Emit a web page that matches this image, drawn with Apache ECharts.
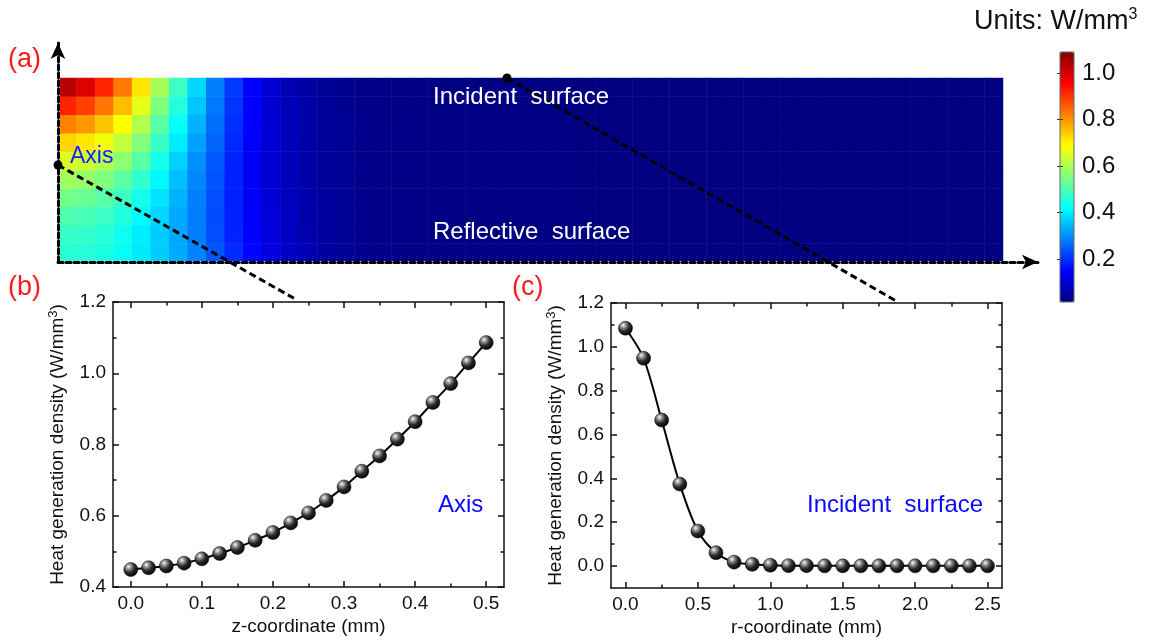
<!DOCTYPE html>
<html>
<head>
<meta charset="utf-8">
<title>Heat generation density</title>
<script src="https://cdn.jsdelivr.net/npm/echarts@6.0.0/dist/echarts.min.js"></script>
<style>
  html, body { margin: 0; padding: 0; background: #fff; }
  #chart { width: 1153px; height: 640px; }
</style>
</head>
<body>
<div id="chart"></div>
<script>
// (a) field map: cell centres along r (mm) and z (mm)
const rCells = ['0.025', '0.075', '0.125', '0.175', '0.225', '0.275', '0.325', '0.375', '0.425', '0.475',
  '0.525', '0.575', '0.625', '0.675', '0.725', '0.775', '0.825', '0.875', '0.925', '0.975',
  '1.025', '1.075', '1.125', '1.175', '1.225', '1.275', '1.325', '1.375', '1.425', '1.475',
  '1.525', '1.575', '1.625', '1.675', '1.725', '1.775', '1.825', '1.875', '1.925', '1.975',
  '2.025', '2.075', '2.125', '2.175', '2.225', '2.275', '2.325', '2.375', '2.425', '2.475', '2.525']
const zCells = ['0.025', '0.075', '0.125', '0.175', '0.225', '0.275', '0.325', '0.375', '0.425', '0.475']

// W/mm3, r = 0.025 .. 0.975 for each z row
const fieldZ025 = [0.454, 0.449, 0.440, 0.418, 0.386, 0.356, 0.318, 0.277, 0.227, 0.182, 0.141, 0.104, 0.075, 0.052, 0.035, 0.024, 0.017, 0.012, 0.009, 0.007]
const fieldZ075 = [0.467, 0.461, 0.450, 0.425, 0.390, 0.356, 0.314, 0.270, 0.220, 0.174, 0.134, 0.099, 0.071, 0.049, 0.033, 0.023, 0.016, 0.012, 0.008, 0.007]
const fieldZ125 = [0.494, 0.487, 0.472, 0.445, 0.406, 0.365, 0.318, 0.270, 0.219, 0.171, 0.130, 0.096, 0.069, 0.047, 0.032, 0.022, 0.016, 0.011, 0.008, 0.006]
const fieldZ175 = [0.531, 0.523, 0.504, 0.473, 0.429, 0.380, 0.327, 0.273, 0.221, 0.169, 0.128, 0.093, 0.066, 0.046, 0.031, 0.021, 0.015, 0.011, 0.008, 0.006]
const fieldZ225 = [0.580, 0.570, 0.546, 0.510, 0.461, 0.402, 0.341, 0.280, 0.225, 0.169, 0.126, 0.092, 0.065, 0.045, 0.030, 0.020, 0.015, 0.010, 0.008, 0.006]
const fieldZ275 = [0.643, 0.630, 0.601, 0.559, 0.502, 0.431, 0.360, 0.289, 0.231, 0.170, 0.125, 0.090, 0.063, 0.043, 0.029, 0.020, 0.014, 0.010, 0.008, 0.006]
const fieldZ325 = [0.725, 0.707, 0.670, 0.618, 0.549, 0.468, 0.388, 0.309, 0.244, 0.178, 0.130, 0.092, 0.064, 0.043, 0.029, 0.020, 0.014, 0.010, 0.008, 0.006]
const fieldZ375 = [0.815, 0.791, 0.744, 0.681, 0.599, 0.505, 0.416, 0.328, 0.255, 0.186, 0.133, 0.093, 0.063, 0.042, 0.028, 0.020, 0.014, 0.010, 0.007, 0.006]
const fieldZ425 = [0.918, 0.886, 0.827, 0.751, 0.655, 0.546, 0.445, 0.348, 0.265, 0.192, 0.134, 0.092, 0.062, 0.040, 0.027, 0.018, 0.013, 0.009, 0.007, 0.006]
const fieldZ475 = [1.029, 0.988, 0.916, 0.823, 0.710, 0.587, 0.473, 0.365, 0.273, 0.196, 0.134, 0.090, 0.058, 0.037, 0.024, 0.016, 0.011, 0.008, 0.006, 0.005]
// r = 1.025 .. 2.525, nearly zero everywhere
const fieldTail = [0.005, 0.004, 0.004, 0.004, 0.003, 0.003, 0.003, 0.003, 0.002, 0.002,
  0.002, 0.002, 0.002, 0.002, 0.001, 0.001, 0.001, 0.001, 0.001, 0.001,
  0.001, 0.001, 0.001, 0.001, 0.001, 0.001, 0.001, 0.001, 0.001, 0.001, 0.001]
const fieldRows = [fieldZ025, fieldZ075, fieldZ125, fieldZ175, fieldZ225,
  fieldZ275, fieldZ325, fieldZ375, fieldZ425, fieldZ475]

// (b) along the axis
const zCoord = [0, 0.025, 0.05, 0.075, 0.1, 0.125, 0.15, 0.175, 0.2, 0.225, 0.25,
  0.275, 0.3, 0.325, 0.35, 0.375, 0.4, 0.425, 0.45, 0.475, 0.5]
const axisHeat = [0.449, 0.454, 0.459, 0.467, 0.479, 0.494, 0.511, 0.531, 0.553, 0.580, 0.608,
  0.643, 0.681, 0.725, 0.768, 0.815, 0.864, 0.918, 0.971, 1.029, 1.086]

// (c) along the incident surface
const rCoord = [0, 0.125, 0.25, 0.375, 0.5, 0.625, 0.75, 0.875, 1.0, 1.125, 1.25,
  1.375, 1.5, 1.625, 1.75, 1.875, 2.0, 2.125, 2.25, 2.375, 2.5]
const surfaceHeat = [1.085, 0.948, 0.666, 0.374, 0.160, 0.061, 0.018, 0.008, 0.004, 0.002, 0.002,
  0.001, 0.001, 0.001, 0.001, 0.001, 0.001, 0.001, 0.001, 0.001, 0.001]

// tick values
const bMajorX = [0, 0.1, 0.2, 0.3, 0.4, 0.5]
const bMinorX = [0.05, 0.15, 0.25, 0.35, 0.45]
const bMajorY = [0.4, 0.6, 0.8, 1.0, 1.2]
const bMinorY = [0.5, 0.7, 0.9, 1.1]
const cMajorX = [0, 0.5, 1.0, 1.5, 2.0, 2.5]
const cMinorX = [0.25, 0.75, 1.25, 1.75, 2.25]
const cMajorY = [0, 0.2, 0.4, 0.6, 0.8, 1.0, 1.2]
const cMinorY = [0.1, 0.3, 0.5, 0.7, 0.9, 1.1]
const barTicks = [0.2, 0.4, 0.6, 0.8, 1.0]

const jet = ['#00007f', '#0000ff', '#007fff', '#00ffff', '#7fff7f', '#ffff00', '#ff7f00', '#ff0000', '#7f0000']
const font = 'Liberation Sans, Arial, sans-serif'

const heatData = []
fieldRows.forEach((row, i) => {
  row.concat(fieldTail).forEach((v, j) => heatData.push([j, i, v]))
})

const sphere = {
  type: 'radial', x: 0.35, y: 0.3, r: 0.75,
  colorStops: [
    { offset: 0, color: '#ffffff' },
    { offset: 0.2, color: '#a0a0a0' },
    { offset: 0.55, color: '#2a2a2a' },
    { offset: 1, color: '#000000' }
  ]
}

const lineColor = '#111'
const fmt = v => Number(v).toFixed(1)

// four axes per side pair: labelled major, minor, mirrored major, mirrored minor
function frameAxes(grid, pos, opp, min, max, major, minor, extra) {
  const base = {
    gridIndex: grid, type: 'value', min: min, max: max,
    splitLine: { show: false },
    axisLine: { onZero: false, lineStyle: { color: lineColor, width: 1.5 } }
  }
  const noLine = { show: false, onZero: false }
  const tick = (vals, len) => ({ inside: true, length: len, customValues: vals, lineStyle: { color: lineColor, width: 1.5 } })
  return [
    Object.assign({}, base, {
      position: pos,
      axisTick: tick(major, 6),
      axisLabel: { customValues: major, formatter: fmt, fontSize: 19, color: '#111', margin: 7 }
    }, extra),
    Object.assign({}, base, { position: pos, axisLine: noLine, axisTick: tick(minor, 3.5), axisLabel: { show: false } }),
    Object.assign({}, base, { position: opp, axisTick: tick(major, 6), axisLabel: { show: false } }),
    Object.assign({}, base, { position: opp, axisLine: noLine, axisTick: tick(minor, 3.5), axisLabel: { show: false } })
  ]
}

const supRich = { s: { fontSize: 13, padding: [0, 0, 9, 0] } }
const xTitle = (name) => ({
  name: name, nameLocation: 'middle', nameGap: 30,
  nameTextStyle: { fontSize: 19, color: '#111' }
})
const yTitle = {
  name: 'Heat generation density (W/mm{s|3})', nameLocation: 'middle', nameGap: 44,
  nameTextStyle: { fontSize: 19, color: '#111', rich: supRich }
}

const dashedArrow = {
  onZero: false, symbol: ['none', 'arrow'], symbolSize: [11, 16],
  lineStyle: { color: '#000', width: 3, type: [5, 3] }
}
const whiteEdge = { show: true, lineStyle: { color: '#fff', width: 3 } }

const xAxes = [
  { gridIndex: 0, type: 'category', data: rCells, axisLine: whiteEdge, axisTick: { show: false }, axisLabel: { show: false }, z: 5 },
  { gridIndex: 1, type: 'value', min: 0, max: 1, axisLine: dashedArrow, axisTick: { show: false }, axisLabel: { show: false }, splitLine: { show: false }, z: 6 }
].concat(
  frameAxes(2, 'bottom', 'top', -0.025, 0.525, bMajorX, bMinorX, xTitle('z-coordinate (mm)')),
  frameAxes(3, 'bottom', 'top', -0.1, 2.6, cMajorX, cMinorX, xTitle('r-coordinate (mm)')),
  [{ gridIndex: 4, type: 'value', show: false }]
)

const yAxes = [
  { gridIndex: 0, type: 'category', data: zCells, axisLine: whiteEdge, axisTick: { show: false }, axisLabel: { show: false }, z: 5 },
  { gridIndex: 1, type: 'value', min: 0, max: 1, axisLine: dashedArrow, axisTick: { show: false }, axisLabel: { show: false }, splitLine: { show: false }, z: 6 }
].concat(
  frameAxes(2, 'left', 'right', 0.4, 1.2, bMajorY, bMinorY, yTitle),
  frameAxes(3, 'left', 'right', -0.1, 1.2, cMajorY, cMinorY, yTitle),
  [
    {
      gridIndex: 4, type: 'value', min: 0.015, max: 1.09, position: 'right', z: 10,
      axisLine: { show: false }, splitLine: { show: false },
      axisTick: { inside: true, length: 3, customValues: barTicks, lineStyle: { color: '#333' } },
      axisLabel: { customValues: barTicks, formatter: fmt, fontSize: 24, color: '#111', margin: 8 }
    },
    {
      gridIndex: 4, type: 'value', min: 0.015, max: 1.09, position: 'left', z: 10,
      axisLine: { show: false }, splitLine: { show: false },
      axisTick: { inside: true, length: 3, customValues: barTicks, lineStyle: { color: '#333' } },
      axisLabel: { show: false }
    }
  ]
)

const dash = { stroke: '#000', lineWidth: 3, lineDash: [7, 4] }
const txt = (x, y, text, size, color, rich) => ({
  type: 'text', x: x, y: y, z: 100,
  style: { text: text, fontSize: size, fontFamily: font, fill: color, rich: rich }
})

const option = {
  animation: false,
  textStyle: { fontFamily: font },
  grid: [
    { left: 58, top: 78, width: 945, height: 184 },
    { left: 58, top: 43, width: 980, height: 219 },
    { left: 113, top: 302, width: 391, height: 285 },
    { left: 611, top: 303, width: 391, height: 285 },
    { left: 1060, top: 52, width: 14, height: 250 }
  ],
  xAxis: xAxes,
  yAxis: yAxes,
  visualMap: {
    type: 'continuous', seriesIndex: 0, min: 0, max: 1.09,
    calculable: false, orient: 'vertical', left: 1060, top: 52,
    itemWidth: 14, itemHeight: 250, padding: 0,
    inRange: { color: jet }
  },
  series: [
    {
      type: 'heatmap', xAxisIndex: 0, yAxisIndex: 0, data: heatData,
      emphasis: { disabled: true }
    },
    {
      type: 'line', xAxisIndex: 2, yAxisIndex: 2, z: 3,
      data: zCoord.map((z, i) => [z, axisHeat[i]]),
      smooth: 0.3, symbol: 'circle', symbolSize: 14,
      lineStyle: { color: '#000', width: 2 },
      itemStyle: { color: sphere, borderColor: '#000', borderWidth: 0.5 }
    },
    {
      type: 'line', xAxisIndex: 6, yAxisIndex: 6, z: 3,
      data: rCoord.map((r, i) => [r, surfaceHeat[i]]),
      smooth: 0.3, symbol: 'circle', symbolSize: 14,
      lineStyle: { color: '#000', width: 2 },
      itemStyle: { color: sphere, borderColor: '#000', borderWidth: 0.5 }
    }
  ],
  graphic: [
    { type: 'line', z: 90, shape: { x1: 58, y1: 165, x2: 297, y2: 300 }, style: dash },
    { type: 'line', z: 90, shape: { x1: 507, y1: 78, x2: 898, y2: 302 }, style: dash },
    { type: 'circle', z: 95, shape: { cx: 58, cy: 165, r: 4.5 }, style: { fill: '#000' } },
    { type: 'circle', z: 95, shape: { cx: 507, cy: 78, r: 4.5 }, style: { fill: '#000' } },
    { type: 'rect', z: 100, shape: { x: 1060, y: 52, width: 14, height: 250 }, style: { fill: 'none', stroke: '#666', lineWidth: 1 } },
    txt(8, 46, '(a)', 27, '#ff1a1a'),
    txt(8, 274, '(b)', 27, '#ff1a1a'),
    txt(512, 274, '(c)', 27, '#ff1a1a'),
    txt(974, 7, 'Units: W/mm{s|3}', 27, '#111', { s: { fontSize: 16, padding: [0, 0, 13, 0] } }),
    txt(70, 145, 'Axis', 23, '#1c1cff'),
    txt(433, 85, 'Incident  surface', 24, '#ffffff'),
    txt(433, 220, 'Reflective  surface', 24, '#ffffff'),
    txt(438, 493, 'Axis', 24, '#0a0aff'),
    txt(807, 493, 'Incident  surface', 24, '#0a0aff')
  ]
}

const chart = echarts.init(document.getElementById('chart'))
chart.setOption(option)
</script>
</body>
</html>
